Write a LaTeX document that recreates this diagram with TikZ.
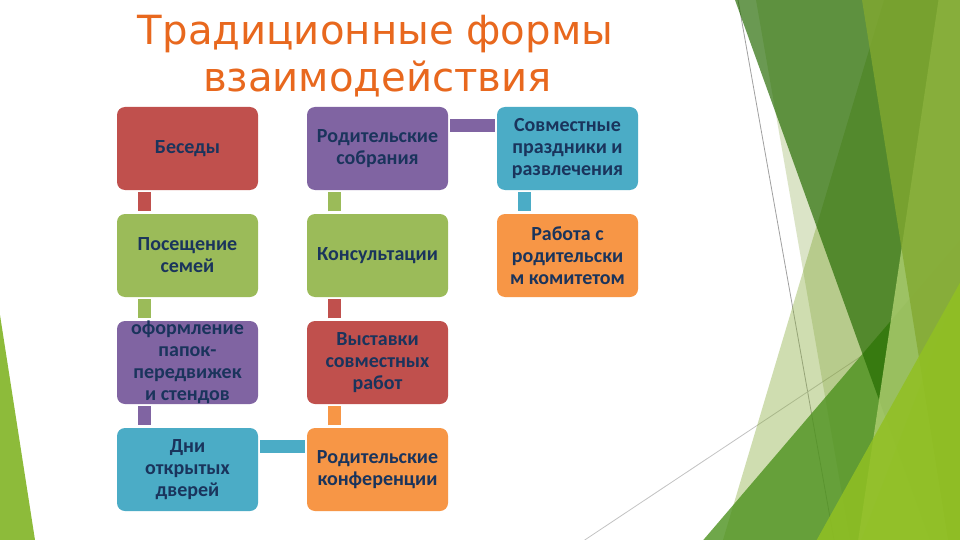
\documentclass[tikz,border=0pt]{standalone}
\usepackage{fontspec}
\setmainfont{Carlito}
\newfontfamily\titlefont{DejaVu Sans}
\usetikzlibrary{calc}
\definecolor{cred}{RGB}{192,80,77}
\definecolor{cgreen}{RGB}{155,187,89}
\definecolor{cpurple}{RGB}{128,100,162}
\definecolor{caqua}{RGB}{75,172,198}
\definecolor{corange}{RGB}{247,150,70}
\definecolor{navy}{RGB}{26,52,92}
\definecolor{titleor}{RGB}{232,104,30}
\definecolor{glinea}{RGB}{160,160,160}
\definecolor{glineb}{RGB}{195,195,195}
\definecolor{fS}{RGB}{135,170,58}
\definecolor{fB}{RGB}{115,151,35}
\definecolor{fT}{RGB}{76,145,29}
\definecolor{fD}{RGB}{36,106,0}
\definecolor{fQ}{RGB}{171,204,110}
\definecolor{fP}{RGB}{130,169,48}
\definecolor{fA}{RGB}{145,192,35}
\definecolor{fL}{RGB}{141,187,58}
\tikzset{
  box/.style={rounded corners=8pt, minimum width=141pt, minimum height=83pt, inner sep=0pt, draw=none},
  btext/.style={font=\bfseries\fontsize{20}{22}\selectfont, text=navy, align=center, inner sep=0pt},
  conn/.style={line width=13pt},
  ttl/.style={font=\titlefont\fontsize{40.2}{48}\selectfont, text=titleor, inner sep=0pt, anchor=base}
}
\begin{document}
\begin{tikzpicture}[x=1pt,y=-1pt]
\useasboundingbox (0,0) rectangle (960,540);
\fill[white] (0,0) rectangle (960,540);
% background facets
\draw[glinea, line width=0.8pt] (738,0) -- (834,540);
\draw[glineb, line width=0.8pt] (584.7,540) -- (860.8,356.5);
\fill[fS, fill opacity=0.4] (884,0) -- (960,0) -- (960,540) -- (723,540) -- cycle;
\fill[fB, fill opacity=0.25] (756,0) -- (960,0) -- (960,540) -- (850,540) -- cycle;
\fill[fT, fill opacity=0.8] (703.3,540) -- (960,240) -- (960,540) -- cycle;
\fill[fD, fill opacity=0.68] (735,0) -- (960,0) -- (960,540) -- (929.5,540) -- cycle;
\fill[fQ, fill opacity=0.85] (938.5,0) -- (960,0) -- (960,540) -- (858.2,540) -- cycle;
\fill[fP, fill opacity=0.78] (862,0) -- (960,0) -- (960,540) -- (948,540) -- cycle;
\fill[fA, fill opacity=0.85] (816.7,540) -- (960,282.7) -- (960,540) -- cycle;
\fill[fA, fill opacity=0.3] (861.3,540) -- (960,282.7) -- (960,540) -- cycle;
\fill[fL] (0,315) -- (35,540) -- (0,540) -- cycle;
% title
\node[ttl] (ti1) at (375.5,44.3) {Традиционные формы};
\node[ttl] (ti2) at (377.5,91.7) {взаимодействия};
% boxes
\node[box, fill=cred]    (b11) at (187.5,148.5) {};
\node[box, fill=cgreen]  (b21) at (187.5,255.5) {};
\node[box, fill=cpurple] (b31) at (187.5,362.5) {};
\node[box, fill=caqua]   (b41) at (187.5,469.5) {};
\node[box, fill=cpurple] (b12) at (377.5,148.5) {};
\node[box, fill=cgreen]  (b22) at (377.5,255.5) {};
\node[box, fill=cred]    (b32) at (377.5,362.5) {};
\node[box, fill=corange] (b42) at (377.5,469.5) {};
\node[box, fill=caqua]   (b13) at (567.5,148.5) {};
\node[box, fill=corange] (b23) at (567.5,255.5) {};
% texts
\node[btext] (t11) at (b11) {Беседы};
\node[btext] (t21) at (b21) {Посещение\\семей};
\node[btext] (t31) at (b31) {оформление\\папок-\\передвижек\\и стендов};
\node[btext] (t41) at (b41) {Дни\\открытых\\дверей};
\node[btext] (t12) at (b12) {Родительские\\собрания};
\node[btext] (t22) at (b22) {Консультации};
\node[btext] (t32) at (b32) {Выставки\\совместных\\работ};
\node[btext] (t42) at (b42) {Родительские\\конференции};
\node[btext] (t13) at (b13) {Совместные\\праздники и\\развлечения};
\node[btext] (t23) at (b23) {Работа с\\родительски\\м комитетом};
% connectors
\draw[conn, cred]    ($(b11.south west)+(27.5,2)$) -- ($(b21.north west)+(27.5,-2.5)$);
\draw[conn, cgreen]  ($(b21.south west)+(27.5,2)$) -- ($(b31.north west)+(27.5,-2.5)$);
\draw[conn, cpurple] ($(b31.south west)+(27.5,2)$) -- ($(b41.north west)+(27.5,-2.5)$);
\draw[conn, caqua]   ($(b41.north east)+(2,19)$) -- ($(b42.north west)+(-2,19)$);
\draw[conn, corange] ($(b42.north west)+(27.5,-2.5)$) -- ($(b32.south west)+(27.5,2)$);
\draw[conn, cred]    ($(b32.north west)+(27.5,-2.5)$) -- ($(b22.south west)+(27.5,2)$);
\draw[conn, cgreen]  ($(b22.north west)+(27.5,-2.5)$) -- ($(b12.south west)+(27.5,2)$);
\draw[conn, cpurple] ($(b12.north east)+(2,19)$) -- ($(b13.north west)+(-2,19)$);
\draw[conn, caqua]   ($(b13.south west)+(27.5,2)$) -- ($(b23.north west)+(27.5,-2.5)$);
\end{tikzpicture}
\end{document}
